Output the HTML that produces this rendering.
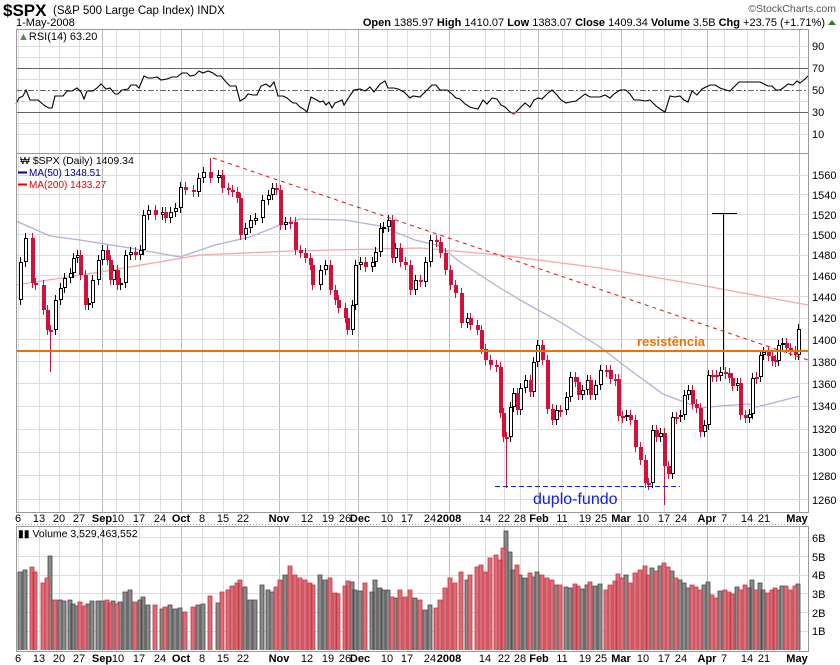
<!DOCTYPE html>
<html><head><meta charset="utf-8"><style>
body{margin:0;background:#fff;}
svg{display:block;font-family:"Liberation Sans",sans-serif;}
</style></head><body>
<svg width="840" height="665" xmlns="http://www.w3.org/2000/svg">
<text x="3" y="16" font-size="17" font-weight="bold">$SPX</text>
<text x="53" y="14" font-size="11.5">(S&amp;P 500 Large Cap Index)  INDX</text>
<text x="16" y="26" font-size="11">1-May-2008</text>
<text x="836" y="12" font-size="10.5" fill="#555" text-anchor="end">©StockCharts.com</text>
<text x="825" y="26" font-size="11" text-anchor="end"><tspan font-weight="bold">Open</tspan> 1385.97  <tspan font-weight="bold">High</tspan> 1410.07  <tspan font-weight="bold">Low</tspan> 1383.07  <tspan font-weight="bold">Close</tspan> 1409.34  <tspan font-weight="bold">Volume</tspan> 3.5B  <tspan font-weight="bold">Chg</tspan> +23.75 (+1.71%)</text>
<polygon points="828,25 836,25 832,20" fill="#2a7a2a"/>

<!-- vertical grid -->
<g stroke="#ddd">
<path d="M18.5 29V651M39.5 29V651M59.5 29V651M79.5 29V651M116.5 29V651M139.5 29V651M160.5 29V651M202.5 29V651M223.5 29V651M243.5 29V651M307.5 29V651M328.5 29V651M345.5 29V651M387.5 29V651M407.5 29V651M430.5 29V651M485.5 29V651M504.5 29V651M520.5 29V651M562.5 29V651M585.5 29V651M601.5 29V651M643.5 29V651M664.5 29V651M681.5 29V651M724.5 29V651M747.5 29V651M764.5 29V651"/>
</g>
<path stroke="#bbb" d="M102.5 29V651M181.5 29V651M279.5 29V651M358.5 29V651M449.5 29V651M538.5 29V651M621.5 29V651M707.5 29V651M799.5 29V651"/>
<rect x="16" y="513" width="792" height="13" fill="#fff"/>

<!-- RSI grid -->
<path stroke="#ddd" d="M16 134.5H808M16 123.5H808M16 101.5H808M16 79.5H808M16 57.5H808M16 46.5H808"/>
<path stroke="#666" d="M16 68.5H808M16 112.5H808"/>
<path stroke="#666" stroke-dasharray="6,2,2,2" d="M16 90.5H808"/>
<g font-size="11"><text x="812" y="50">90</text><text x="812" y="72">70</text><text x="812" y="94">50</text><text x="812" y="116">30</text><text x="812" y="138">10</text></g>
<polyline fill="none" stroke="#000" stroke-width="1.1" points="16,104 19,98 23,96 26,90 30,100 38,100 45,106 49,108 52,108 55,96 63,96 67,91 72,91 77,88 81,92 84,99 87,91 93,91 97,88 101,84 106,89 110,88 115,94 118,94 122,90 128,89 131,85 136,85 139,88 144,76 148,78 152,78 157,77 161,80 167,79 172,77 177,77 182,73 187,73 190,76 195,75 199,71 203,73 208,71 213,73 217,76 221,76 226,82 230,86 236,86 240,101 245,98 248,94 253,95 257,95 261,86 266,84 270,87 274,82 278,96 283,96 287,98 293,103 296,103 300,107 305,110 307,112 311,97 315,99 320,102 323,101 326,105 329,102 332,108 335,103 342,100 344,105 349,97 354,90 360,89 365,91 370,87 374,92 380,84 385,81 388,88 394,88 398,89 404,92 410,98 413,96 420,97 427,90 432,85 436,85 440,90 447,90 452,94 456,98 460,99 465,104 470,107 473,108 478,109 483,100 487,104 492,98 497,99 501,105 505,107 510,112 514,114 520,108 525,103 530,107 534,100 538,98 542,99 548,93 552,90 557,95 561,100 566,103 570,102 576,101 580,98 585,94 590,97 600,97 605,95 610,98 614,94 620,90 626,90 630,94 634,100 639,100 645,101 650,100 656,106 660,109 665,112 670,96 675,97 680,96 684,100 688,102 692,91 697,95 702,89 706,87 710,85 715,85 720,88 726,90 730,91 735,86 739,82 760,82 764,84 768,86 772,86 776,90 780,90 783,88 788,84 793,85 797,81 800,83 805,79 808,76"/>
<path d="M505,112 L510,112 514,114 518,112Z" fill="#a06060"/>
<text x="18" y="40" font-size="11"><tspan fill="#5a8a5a">▲</tspan>RSI(14) 63.20</text>

<!-- price grid -->
<path stroke="#ddd" d="M16 175.5H808M16 194.5H808M16 214.5H808M16 234.5H808M16 255.5H808M16 275.5H808M16 296.5H808M16 318.5H808M16 339.5H808M16 361.5H808M16 383.5H808M16 406.5H808M16 429.5H808M16 452.5H808M16 475.5H808M16 499.5H808"/>
<g font-size="11"><text x="812" y="179">1560</text><text x="812" y="199">1540</text><text x="812" y="219">1520</text><text x="812" y="239">1500</text><text x="812" y="259">1480</text><text x="812" y="280">1460</text><text x="812" y="301">1440</text><text x="812" y="322">1420</text><text x="812" y="344">1400</text><text x="812" y="366">1380</text><text x="812" y="388">1360</text><text x="812" y="410">1340</text><text x="812" y="433">1320</text><text x="812" y="456">1300</text><text x="812" y="480">1280</text><text x="812" y="504">1260</text></g>

<!-- MAs -->
<polyline fill="none" stroke="#f5a8a8" stroke-width="1.3" points="16,285 100,272 200,255 290,251 420,248 500,255 600,268 700,285 808,305"/>
<polyline fill="none" stroke="#b0b0e0" stroke-width="1.3" points="16,221 50,236 80,240 130,248 180,257 215,245 250,237 280,225 300,219 345,220 380,226 415,240 440,246 460,262 500,288 520,300 560,322 600,347 630,370 663,394 700,408 720,406 748,404 757,407 800,396"/>

<!-- wicks -->
<path stroke="#000" d="M20.5 257V305M25.5 233V267M55.5 295V335M60.5 283V305M64.5 273V293M70.5 268V283M73.5 253V278M77.5 250V263M88.5 298V310M92.5 275V308M98.5 255V285M102.5 245V265M113.5 265V285M120.5 278V290M125.5 250V288M130.5 247V260M140.5 245V260M143.5 210V255M148.5 205V220M162.5 207V220M170.5 207V223M175.5 203V217M180.5 182V213M198.5 173V197M203.5 167V183M218.5 170V183M245.5 223V240M250.5 215V233M255.5 213V225M262.5 195V223M268.5 190V205M272.5 183V200M285.5 217V230M320.5 265V290M325.5 260V275M352.5 300V335M355.5 260V310M360.5 257V270M372.5 257V272M375.5 247V267M380.5 223V257M383.5 222V233M388.5 215V232M395.5 243V263M415.5 275V295M425.5 257V287M430.5 235V267M467.5 313V328M510.5 402V442M513.5 388V412M520.5 383V415M525.5 375V393M533.5 357V397M537.5 340V367M556.5 405V425M566.5 392V415M570.5 372V402M582.5 385V400M587.5 375V395M595.5 380V400M600.5 365V390M626.5 410V421M652.5 425V488M660.5 428V442M672.5 412V479M680.5 410V422M684.5 390V420M688.5 385V400M704.5 420V437M708.5 370V430M720.5 367V381M723.5 213V370M712 213.5H737M737.5 378V391M749.5 409V423M752.5 373V419M760.5 350V382M763.5 347V360M778.5 340V366M782.5 338V350M798.5 324V360"/>
<path stroke="#d4103a" d="M32.5 233V288M35.5 278V290M43.5 280V315M47.5 305V335M50.5 325V372M80.5 250V280M85.5 270V310M107.5 245V265M110.5 255V285M117.5 265V290M135.5 247V260M155.5 205V220M165.5 207V223M185.5 182V195M193.5 185V197M210.5 158V183M222.5 170V193M228.5 183V195M232.5 185V197M237.5 187V203M240.5 193V240M276.5 183V195M280.5 185V230M290.5 217V229M295.5 217V255M300.5 245V258M305.5 248V263M310.5 253V270M312.5 260V290M330.5 260V295M335.5 285V305M338.5 295V313M345.5 303V323M347.5 313V335M365.5 257V272M392.5 215V263M400.5 243V267M405.5 257V270M410.5 260V295M420.5 275V287M436.5 235V247M440.5 237V258M445.5 248V275M450.5 265V290M455.5 280V298M461.5 288V328M470.5 313V330M477.5 320V335M481.5 325V354M485.5 344V365M490.5 355V370M496.5 360V372M500.5 362V418M503.5 408V442M506.5 432V488M517.5 388V415M530.5 375V397M542.5 340V365M547.5 355V414M552.5 404V425M560.5 405V417M575.5 372V387M578.5 377V400M590.5 375V400M606.5 365V377M610.5 365V384M615.5 374V386M618.5 374V421M622.5 411V423M630.5 410V425M635.5 415V452M640.5 442V465M645.5 455V488M648.5 478V490M656.5 425V442M664.5 428V505M668.5 461V479M676.5 412V424M692.5 385V409M696.5 399V413M700.5 403V437M712.5 370V382M716.5 370V382M725.5 367V379M729.5 368V383M732.5 373V391M740.5 378V420M745.5 410V423M756.5 372V384M768.5 347V361M772.5 351V366M775.5 355V367M786.5 338V353M790.5 343V356M795.5 346V360"/>
<!-- hollow bodies -->
<path fill="#fff" stroke="#000" d="M19.5 262.5h3v37h-3zM24.5 238.5h3v23h-3zM54.5 300.5h3v29h-3zM59.5 288.5h3v11h-3zM63.5 278.5h3v9h-3zM69.5 273.5h3v4h-3zM72.5 258.5h3v14h-3zM76.5 255.5h3v2h-3zM87.5 303.5h3v1h-3zM91.5 280.5h3v22h-3zM97.5 260.5h3v19h-3zM101.5 250.5h3v9h-3zM112.5 270.5h3v9h-3zM119.5 283.5h3v1h-3zM124.5 255.5h3v27h-3zM129.5 252.5h3v2h-3zM139.5 250.5h3v4h-3zM142.5 215.5h3v34h-3zM147.5 210.5h3v4h-3zM161.5 212.5h3v2h-3zM169.5 212.5h3v5h-3zM174.5 208.5h3v3h-3zM179.5 187.5h3v20h-3zM197.5 178.5h3v13h-3zM202.5 172.5h3v5h-3zM217.5 175.5h3v2h-3zM244.5 228.5h3v6h-3zM249.5 220.5h3v7h-3zM254.5 218.5h3v2h-3zM261.5 200.5h3v17h-3zM267.5 195.5h3v4h-3zM271.5 188.5h3v6h-3zM284.5 222.5h3v2h-3zM319.5 270.5h3v14h-3zM324.5 265.5h3v4h-3zM351.5 305.5h3v24h-3zM354.5 265.5h3v39h-3zM359.5 262.5h3v2h-3zM371.5 262.5h3v4h-3zM374.5 252.5h3v9h-3zM379.5 228.5h3v23h-3zM382.5 227.5h3v1h-3zM387.5 220.5h3v6h-3zM394.5 248.5h3v9h-3zM414.5 280.5h3v9h-3zM424.5 262.5h3v19h-3zM429.5 240.5h3v21h-3zM466.5 318.5h3v4h-3zM509.5 407.5h3v29h-3zM512.5 393.5h3v13h-3zM519.5 388.5h3v21h-3zM524.5 380.5h3v7h-3zM532.5 362.5h3v29h-3zM536.5 345.5h3v16h-3zM555.5 410.5h3v9h-3zM565.5 397.5h3v12h-3zM569.5 377.5h3v19h-3zM581.5 390.5h3v4h-3zM586.5 380.5h3v9h-3zM594.5 385.5h3v9h-3zM599.5 370.5h3v14h-3zM625.5 415.5h3v1h-3zM651.5 430.5h3v52h-3zM659.5 433.5h3v3h-3zM671.5 417.5h3v56h-3zM679.5 415.5h3v1h-3zM683.5 395.5h3v19h-3zM687.5 390.5h3v4h-3zM703.5 425.5h3v6h-3zM707.5 375.5h3v49h-3zM719.5 372.5h3v3h-3zM736.5 383.5h3v2h-3zM748.5 414.5h3v3h-3zM751.5 378.5h3v35h-3zM759.5 355.5h3v21h-3zM762.5 352.5h3v2h-3zM777.5 345.5h3v15h-3zM781.5 343.5h3v1h-3zM797.5 329.5h3v25h-3z"/>
<!-- red bodies -->
<path fill="#d4103a" d="M31 238h4v45h-4zM34 283h4v2h-4zM42 285h4v25h-4zM46 310h4v20h-4zM49 330h4v2h-4zM79 255h4v20h-4zM84 275h4v30h-4zM106 250h4v10h-4zM109 260h4v20h-4zM116 270h4v15h-4zM134 252h4v3h-4zM154 210h4v5h-4zM164 212h4v6h-4zM184 187h4v3h-4zM192 190h4v2h-4zM209 172h4v6h-4zM221 175h4v13h-4zM227 188h4v2h-4zM231 190h4v2h-4zM236 192h4v6h-4zM239 198h4v37h-4zM275 188h4v2h-4zM279 190h4v35h-4zM289 222h4v2h-4zM294 222h4v28h-4zM299 250h4v3h-4zM304 253h4v5h-4zM309 258h4v7h-4zM311 265h4v20h-4zM329 265h4v25h-4zM334 290h4v10h-4zM337 300h4v8h-4zM344 308h4v10h-4zM346 318h4v12h-4zM364 262h4v5h-4zM391 220h4v38h-4zM399 248h4v14h-4zM404 262h4v3h-4zM409 265h4v25h-4zM419 280h4v2h-4zM435 240h4v2h-4zM439 242h4v11h-4zM444 253h4v17h-4zM449 270h4v15h-4zM454 285h4v8h-4zM460 293h4v30h-4zM469 318h4v7h-4zM476 325h4v5h-4zM480 330h4v19h-4zM484 349h4v11h-4zM489 360h4v5h-4zM495 365h4v2h-4zM499 367h4v46h-4zM502 413h4v24h-4zM505 437h4v2h-4zM516 393h4v17h-4zM529 380h4v12h-4zM541 345h4v15h-4zM546 360h4v49h-4zM551 409h4v11h-4zM559 410h4v2h-4zM574 377h4v5h-4zM577 382h4v13h-4zM589 380h4v15h-4zM605 370h4v2h-4zM609 370h4v9h-4zM614 379h4v2h-4zM617 379h4v37h-4zM621 416h4v2h-4zM629 415h4v5h-4zM634 420h4v27h-4zM639 447h4v13h-4zM644 460h4v23h-4zM647 483h4v2h-4zM655 430h4v7h-4zM663 433h4v33h-4zM667 466h4v8h-4zM675 417h4v2h-4zM691 390h4v14h-4zM695 404h4v4h-4zM699 408h4v24h-4zM711 375h4v2h-4zM715 375h4v2h-4zM724 372h4v2h-4zM728 373h4v5h-4zM731 378h4v8h-4zM739 383h4v32h-4zM744 415h4v3h-4zM755 377h4v2h-4zM767 352h4v4h-4zM771 356h4v5h-4zM774 360h4v2h-4zM785 343h4v5h-4zM789 348h4v3h-4zM794 351h4v4h-4z"/>

<!-- annotations -->
<line x1="213" y1="158" x2="808" y2="360" stroke="#e01010" stroke-dasharray="4,4"/>
<line x1="16" y1="351" x2="808" y2="351" stroke="#f07000" stroke-width="2"/>
<text x="637" y="346" font-size="13" font-weight="bold" fill="#f07000">resistência</text>
<line x1="495" y1="486.5" x2="680" y2="486.5" stroke="#1020e0" stroke-dasharray="5,3"/>
<text x="533" y="504" font-size="16" fill="#1020e0">duplo-fundo</text>

<!-- legend -->
<text x="20" y="164" font-size="10.5">₩ $SPX (Daily) 1409.34</text>
<line x1="18" y1="172.5" x2="27" y2="172.5" stroke="#00008b" stroke-width="2"/><text x="29" y="176" font-size="10" fill="#00008b">MA(50) 1348.51</text>
<line x1="18" y1="184.5" x2="27" y2="184.5" stroke="#e00" stroke-width="2"/><text x="29" y="188" font-size="10" fill="#e00">MA(200) 1433.27</text>

<!-- volume grid -->
<path stroke="#ddd" d="M16 631.5H808M16 612.5H808M16 593.5H808M16 575.5H808M16 556.5H808M16 537.5H808"/>
<g font-size="11"><text x="812" y="542">6B</text><text x="812" y="561">5B</text><text x="812" y="579">4B</text><text x="812" y="598">3B</text><text x="812" y="617">2B</text><text x="812" y="635">1B</text></g>
<path fill="#8a8a8a" stroke="#444" stroke-width=".8" d="M18 650V572h4V650M23 650V570h4V650M48 650V556h4V650M58 650V600h4V650M62 650V601h4V650M68 650V600h4V650M71 650V604h4V650M75 650V606h4V650M86 650V604h4V650M90 650V601h4V650M96 650V601h4V650M100 650V601h4V650M111 650V601h4V650M118 650V602h4V650M123 650V592h4V650M128 650V590h4V650M138 650V600h4V650M141 650V597h4V650M146 650V605h4V650M160 650V609h4V650M168 650V605h4V650M173 650V609h4V650M178 650V608h4V650M196 650V605h4V650M201 650V604h4V650M216 650V603h4V650M243 650V587h4V650M248 650V600h4V650M253 650V600h4V650M260 650V585h4V650M266 650V590h4V650M270 650V592h4V650M283 650V575h4V650M318 650V575h4V650M323 650V580h4V650M350 650V582h4V650M353 650V590h4V650M358 650V591h4V650M370 650V592h4V650M373 650V580h4V650M378 650V588h4V650M381 650V590h4V650M386 650V590h4V650M393 650V598h4V650M413 650V598h4V650M423 650V610h4V650M428 650V605h4V650M465 650V580h4V650M504 650V531h4V650M508 650V552h4V650M511 650V570h4V650M518 650V575h4V650M523 650V578h4V650M531 650V577h4V650M535 650V572h4V650M554 650V585h4V650M564 650V587h4V650M568 650V588h4V650M580 650V589h4V650M585 650V585h4V650M593 650V586h4V650M598 650V584h4V650M624 650V575h4V650M650 650V568h4V650M658 650V566h4V650M670 650V571h4V650M678 650V580h4V650M682 650V583h4V650M686 650V588h4V650M702 650V585h4V650M706 650V582h4V650M718 650V591h4V650M735 650V587h4V650M747 650V588h4V650M750 650V580h4V650M758 650V583h4V650M761 650V590h4V650M776 650V590h4V650M780 650V586h4V650M796 650V584h4V650"/>
<path fill="#d8707c" stroke="#c8303c" stroke-width=".8" d="M30 650V567h4V650M33 650V572h4V650M41 650V583h4V650M45 650V578h4V650M53 650V600h4V650M78 650V602h4V650M83 650V606h4V650M105 650V600h4V650M108 650V603h4V650M115 650V604h4V650M133 650V602h4V650M153 650V605h4V650M163 650V607h4V650M183 650V612h4V650M191 650V607h4V650M208 650V596h4V650M220 650V592h4V650M226 650V590h4V650M230 650V586h4V650M235 650V583h4V650M238 650V580h4V650M274 650V587h4V650M278 650V580h4V650M288 650V566h4V650M293 650V575h4V650M298 650V578h4V650M303 650V580h4V650M308 650V583h4V650M311 650V585h4V650M328 650V578h4V650M333 650V593h4V650M336 650V594h4V650M343 650V586h4V650M346 650V581h4V650M363 650V583h4V650M390 650V597h4V650M398 650V590h4V650M403 650V597h4V650M408 650V590h4V650M418 650V600h4V650M434 650V608h4V650M438 650V600h4V650M443 650V588h4V650M448 650V578h4V650M453 650V583h4V650M459 650V572h4V650M468 650V575h4V650M475 650V567h4V650M479 650V565h4V650M483 650V572h4V650M488 650V558h4V650M494 650V555h4V650M498 650V560h4V650M501 650V548h4V650M515 650V565h4V650M528 650V573h4V650M540 650V575h4V650M545 650V578h4V650M550 650V580h4V650M558 650V585h4V650M573 650V584h4V650M576 650V586h4V650M588 650V582h4V650M604 650V590h4V650M608 650V585h4V650M613 650V581h4V650M616 650V574h4V650M620 650V578h4V650M628 650V583h4V650M633 650V573h4V650M638 650V570h4V650M643 650V566h4V650M646 650V575h4V650M654 650V571h4V650M662 650V563h4V650M666 650V567h4V650M674 650V578h4V650M690 650V585h4V650M694 650V587h4V650M698 650V590h4V650M710 650V595h4V650M714 650V598h4V650M723 650V590h4V650M727 650V592h4V650M730 650V594h4V650M738 650V590h4V650M743 650V585h4V650M754 650V590h4V650M766 650V593h4V650M770 650V590h4V650M773 650V588h4V650M784 650V586h4V650M788 650V590h4V650M793 650V586h4V650"/>
<text x="18" y="537" font-size="10.5">▮▮ Volume 3,529,463,552</text>

<!-- frames -->
<rect x="16.5" y="29.5" width="792" height="124" fill="none" stroke="#999"/>
<rect x="16.5" y="153.5" width="792" height="359" fill="none" stroke="#999"/>
<rect x="16.5" y="526.5" width="792" height="125" fill="none" stroke="#999"/>
<line x1="16" y1="524.5" x2="808" y2="524.5" stroke="#999" stroke-dasharray="1,2"/>

<!-- date labels -->
<g font-size="11" text-anchor="middle">
<text x="18" y="522">6</text><text x="39" y="522">13</text><text x="59" y="522">20</text><text x="79" y="522">27</text><text x="102" y="522" font-weight="bold">Sep</text><text x="118" y="522">10</text><text x="139" y="522">17</text><text x="160" y="522">24</text><text x="181" y="522" font-weight="bold">Oct</text><text x="202" y="522">8</text><text x="223" y="522">15</text><text x="243" y="522">22</text><text x="279" y="522" font-weight="bold">Nov</text><text x="307" y="522">12</text><text x="328" y="522">19</text><text x="345" y="522">26</text><text x="360" y="522" font-weight="bold">Dec</text><text x="387" y="522">10</text><text x="407" y="522">17</text><text x="430" y="522">24</text><text x="449" y="522" font-weight="bold">2008</text><text x="485" y="522">14</text><text x="504" y="522">22</text><text x="520" y="522">28</text><text x="539" y="522" font-weight="bold">Feb</text><text x="562" y="522">11</text><text x="585" y="522">19</text><text x="601" y="522">25</text><text x="621" y="522" font-weight="bold">Mar</text><text x="643" y="522">10</text><text x="664" y="522">17</text><text x="681" y="522">24</text><text x="707" y="522" font-weight="bold">Apr</text><text x="724" y="522">7</text><text x="747" y="522">14</text><text x="764" y="522">21</text><text x="797" y="522" font-weight="bold">May</text>
</g>
<g font-size="11" text-anchor="middle">
<text x="18" y="662">6</text><text x="39" y="662">13</text><text x="59" y="662">20</text><text x="79" y="662">27</text><text x="102" y="662" font-weight="bold">Sep</text><text x="118" y="662">10</text><text x="139" y="662">17</text><text x="160" y="662">24</text><text x="181" y="662" font-weight="bold">Oct</text><text x="202" y="662">8</text><text x="223" y="662">15</text><text x="243" y="662">22</text><text x="279" y="662" font-weight="bold">Nov</text><text x="307" y="662">12</text><text x="328" y="662">19</text><text x="345" y="662">26</text><text x="360" y="662" font-weight="bold">Dec</text><text x="387" y="662">10</text><text x="407" y="662">17</text><text x="430" y="662">24</text><text x="449" y="662" font-weight="bold">2008</text><text x="485" y="662">14</text><text x="504" y="662">22</text><text x="520" y="662">28</text><text x="539" y="662" font-weight="bold">Feb</text><text x="562" y="662">11</text><text x="585" y="662">19</text><text x="601" y="662">25</text><text x="621" y="662" font-weight="bold">Mar</text><text x="643" y="662">10</text><text x="664" y="662">17</text><text x="681" y="662">24</text><text x="707" y="662" font-weight="bold">Apr</text><text x="724" y="662">7</text><text x="747" y="662">14</text><text x="764" y="662">21</text><text x="797" y="662" font-weight="bold">May</text>
</g>
</svg>
</body></html>
